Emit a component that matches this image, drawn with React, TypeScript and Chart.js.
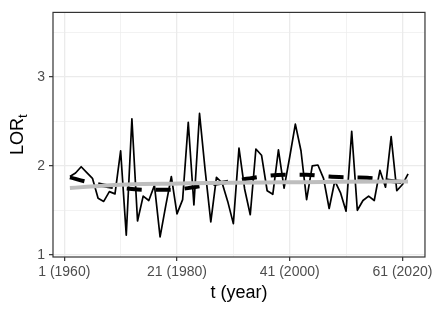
import React, { useEffect, useRef } from "react";
import { Chart, registerables } from "chart.js";
Chart.register(...registerables);

const tValues = [
  2, 3, 4, 5, 6, 7, 8, 9, 10, 11, 12, 13, 14, 15, 16, 17, 18, 19, 20, 21,
  22, 23, 24, 25, 26, 27, 28, 29, 30, 31, 32, 33, 34, 35, 36, 37, 38, 39, 40, 41,
  42, 43, 44, 45, 46, 47, 48, 49, 50, 51, 52, 53, 54, 55, 56, 57, 58, 59, 60, 61, 62,
];
const lorValues = [
  1.88, 1.92, 1.99, 1.925, 1.86, 1.635, 1.6, 1.71, 1.685, 2.17, 1.22, 2.53, 1.38, 1.66, 1.61, 1.78, 1.2, 1.55, 1.88, 1.46,
  1.62, 2.49, 1.56, 2.59, 1.95, 1.37, 1.87, 1.81, 1.6, 1.35, 2.2, 1.74, 1.45, 2.19, 2.12, 1.72, 1.68, 2.18, 1.75, 2.1,
  2.47, 2.17, 1.62, 2.0, 2.01, 1.86, 1.52, 1.83, 1.7, 1.49, 2.39, 1.5, 1.61, 1.66, 1.61, 1.95, 1.76, 2.33, 1.72, 1.79, 1.91,
];
const smoothT = [2, 5, 8, 10, 13, 16, 20, 24, 28, 32, 36, 40, 44, 48, 52, 56, 59, 62];
const smoothValues = [1.87, 1.82, 1.78, 1.76, 1.74, 1.73, 1.73, 1.76, 1.8, 1.84, 1.88, 1.9, 1.9, 1.88, 1.87, 1.86, 1.83, 1.81];
const trendT = [2, 5, 10, 15, 20, 30, 40, 50, 62];
const trendValues = [1.75, 1.765, 1.785, 1.795, 1.8, 1.81, 1.815, 1.82, 1.825];

const xTickValues = [1, 21, 41, 61];
const xTickLabels = ["1 (1960)", "21 (1980)", "41 (2000)", "61 (2020)"];
const xMinorValues = [11, 31, 51];
const yTickValues = [1, 2, 3];
const yTickLabels = ["1", "2", "3"];
const yMinorValues = [1.5, 2.5, 3.5];

const FONT = "'Liberation Sans', Arial, Helvetica, sans-serif";

export default function App() {
  const ref = useRef<HTMLCanvasElement | null>(null);
  useEffect(() => {
    document.body.style.margin = "0";
    const canvas = ref.current;
    if (!canvas) return;
    const isMajorX = (v: number) => xTickValues.includes(v);
    const isMajorY = (v: number) => yTickValues.includes(v);

    const framePlugin = {
      id: "frameTitles",
      afterDatasetsDraw(chart: any) {
        const { ctx, chartArea } = chart;
        ctx.save();
        ctx.strokeStyle = "#333333";
        ctx.lineWidth = 1.2;
        ctx.strokeRect(chartArea.left, chartArea.top, chartArea.right - chartArea.left, chartArea.bottom - chartArea.top);
        ctx.restore();
      },
      afterDraw(chart: any) {
        const { ctx, chartArea } = chart;
        ctx.save();
        ctx.fillStyle = "#000000";
        ctx.font = `18px ${FONT}`;
        ctx.textAlign = "center";
        ctx.textBaseline = "alphabetic";
        ctx.fillText("t (year)", (chartArea.left + chartArea.right) / 2, 298);
        // y title with subscript
        ctx.translate(23, (chartArea.top + chartArea.bottom) / 2);
        ctx.rotate(-Math.PI / 2);
        ctx.textAlign = "left";
        ctx.font = `18px ${FONT}`;
        const wMain = ctx.measureText("LOR").width;
        ctx.font = `13px ${FONT}`;
        const wSub = ctx.measureText("t").width;
        const start = -(wMain + wSub) / 2;
        ctx.font = `18px ${FONT}`;
        ctx.fillText("LOR", start, 0);
        ctx.font = `13px ${FONT}`;
        ctx.fillText("t", start + wMain, 4);
        ctx.restore();
      },
    };

    const chart = new Chart(canvas, {
      type: "line",
      data: {
        datasets: [
          {
            data: trendT.map((t, i) => ({ x: t, y: trendValues[i] })),
            borderColor: "#BEBEBE",
            borderWidth: 4,
            cubicInterpolationMode: "monotone",
            pointRadius: 0,
            fill: false,
            order: 0,
          },
          {
            data: smoothT.map((t, i) => ({ x: t, y: smoothValues[i] })),
            borderColor: "#000000",
            borderWidth: 4,
            borderDash: [15, 14],
            borderCapStyle: "butt",
            cubicInterpolationMode: "monotone",
            pointRadius: 0,
            fill: false,
            order: 1,
          },
          {
            data: tValues.map((t, i) => ({ x: t, y: lorValues[i] })),
            borderColor: "#000000",
            borderWidth: 1.7,
            borderJoinStyle: "round",
            tension: 0,
            pointRadius: 0,
            fill: false,
            order: 2,
          },
        ],
      },
      options: {
        responsive: false,
        animation: false,
        devicePixelRatio: 1,
        layout: { padding: { left: 0, top: 10, right: 10, bottom: 0 } },
        plugins: { legend: { display: false }, tooltip: { enabled: false } },
        scales: {
          x: {
            type: "linear",
            min: -1,
            max: 65,
            afterBuildTicks: (s: any) => {
              s.ticks = [...xTickValues, ...xMinorValues].sort((a, b) => a - b).map((v) => ({ value: v }));
            },
            afterFit: (s: any) => {
              s.height = 55;
            },
            border: { display: false },
            grid: {
              color: "#EBEBEB",
              lineWidth: (c: any) => (c.tick && isMajorX(c.tick.value) ? 1.3 : 0.65),
              tickColor: (c: any) => (c.tick && isMajorX(c.tick.value) ? "#333333" : "rgba(0,0,0,0)"),
              tickWidth: 1.2,
              tickLength: 4,
              drawTicks: true,
            },
            ticks: {
              autoSkip: false,
              maxRotation: 0,
              minRotation: 0,
              padding: 3,
              color: "#4D4D4D",
              font: { family: FONT, size: 14 },
              callback: (v: any) => {
                const i = xTickValues.indexOf(Number(v));
                return i >= 0 ? xTickLabels[i] : "";
              },
            },
          },
          y: {
            type: "linear",
            min: 0.974,
            max: 3.728,
            afterBuildTicks: (s: any) => {
              s.ticks = [...yTickValues, ...yMinorValues].sort((a, b) => a - b).map((v) => ({ value: v }));
            },
            afterFit: (s: any) => {
              s.width = 53;
            },
            border: { display: false },
            grid: {
              color: "#EBEBEB",
              lineWidth: (c: any) => (c.tick && isMajorY(c.tick.value) ? 1.3 : 0.65),
              tickColor: (c: any) => (c.tick && isMajorY(c.tick.value) ? "#333333" : "rgba(0,0,0,0)"),
              tickWidth: 1.2,
              tickLength: 4,
              drawTicks: true,
            },
            ticks: {
              autoSkip: false,
              padding: 4,
              color: "#4D4D4D",
              font: { family: FONT, size: 14 },
              callback: (v: any) => {
                const i = yTickValues.indexOf(Number(v));
                return i >= 0 ? yTickLabels[i] : "";
              },
            },
          },
        },
      },
      plugins: [framePlugin],
    } as any);
    return () => chart.destroy();
  }, []);

  return (
    <div style={{ width: 436, height: 312, background: "#ffffff" }}>
      <canvas ref={ref} width={436} height={312} style={{ display: "block", width: 436, height: 312 }} />
    </div>
  );
}
